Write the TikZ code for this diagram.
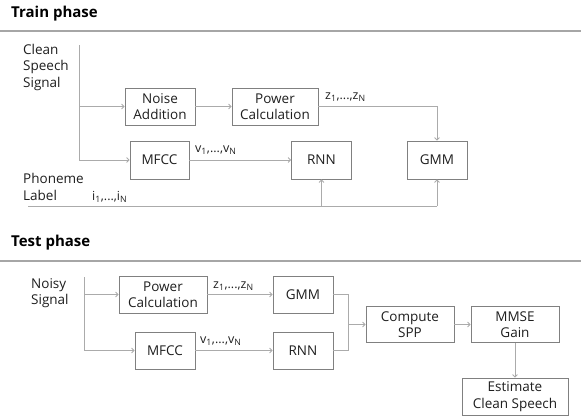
\documentclass[tikz,border=0pt]{standalone}
\usepackage{fontspec}
\setmainfont{Open Sans}
\usetikzlibrary{arrows.meta}
\definecolor{rulegray}{HTML}{A6A6A6}
\definecolor{boxgray}{HTML}{808080}
\definecolor{wiregray}{HTML}{ABABAB}
\definecolor{txt}{HTML}{1E1E1E}
\begin{document}
\begin{tikzpicture}[
  x=1pt, y=-1pt, line cap=butt, line join=miter,
  box/.style={draw=boxgray, line width=0.8pt, align=center, inner sep=0pt,
              font=\fontsize{13.5}{16.5}\selectfont, text=txt},
  conn/.style={draw=wiregray, line width=0.8pt, -{Straight Barb[length=2.5pt, width=5pt]}},
  wire/.style={draw=wiregray, line width=0.8pt},
  hrule/.style={draw=rulegray, line width=1.5pt},
  lbl/.style={font=\fontsize{13.5}{16.5}\selectfont, text=txt, align=left, anchor=west, inner sep=0pt},
  idx/.style={font=\fontsize{12.5}{14}\selectfont, text=txt, anchor=west, inner sep=0pt},
  phase/.style={font=\fontsize{15}{18}\selectfont\bfseries, text=black, anchor=west, inner sep=0pt},
]
\path[use as bounding box] (0,0) rectangle (581,418);

% Train phase
\node[phase] (train) at (11,14) {Train phase};
\draw[hrule] (0,31) -- (581,31);

\node[lbl] (clean) at (23,67) {Clean\\Speech\\Signal};
\node[lbl] (phon) at (23,187) {Phoneme\\Label};

\node[box, minimum width=70, minimum height=37] (noise) at (160,106.5) {Noise\\Addition};
\node[box, minimum width=86, minimum height=37] (power) at (275,106.5) {Power\\Calculation};
\node[box, minimum width=59, minimum height=38] (mfcc) at (159.5,160) {MFCC};
\node[box, minimum width=60, minimum height=38] (rnn) at (321.5,160) {RNN};
\node[box, minimum width=60, minimum height=38] (gmm) at (437,160) {GMM};

\coordinate (cs) at (79,45);
\coordinate (ph) at (28,206);
\draw[conn] (cs) |- (mfcc);
\draw[conn] (cs |- noise) -- (noise);
\draw[conn] (noise) -- (power);
\draw[conn] (power) -| (gmm);
\draw[conn] (mfcc) -- (rnn);
\draw[wire] (ph) -- (ph -| gmm);
\draw[conn] (ph -| rnn) -- (rnn);
\draw[conn] (ph -| gmm) -- (gmm);

\node[idx] (zlab) at (325,97) {z\textsubscript{1},...,z\textsubscript{N}};
\node[idx] (vlab) at (195,150) {v\textsubscript{1},...,v\textsubscript{N}};
\node[idx] (ilab) at (92,197) {i\textsubscript{1},...,i\textsubscript{N}};

% Test phase
\node[phase] (test) at (11,243) {Test phase};
\draw[hrule] (0,261) -- (581,261);

\node[lbl] (noisy) at (31,293) {Noisy\\Signal};

\node[box, minimum width=88, minimum height=37] (tpower) at (163,294.5) {Power\\Calculation};
\node[box, minimum width=60, minimum height=37] (tgmm) at (303,294.5) {GMM};
\node[box, minimum width=60, minimum height=37] (tmfcc) at (165,350.5) {MFCC};
\node[box, minimum width=60, minimum height=37] (trnn) at (303,350.5) {RNN};
\node[box, minimum width=88, minimum height=36] (spp) at (410,324.5) {Compute\\SPP};
\node[box, minimum width=88, minimum height=36] (mmse) at (515,324.5) {MMSE\\Gain};
\node[box, minimum width=106, minimum height=37] (est) at (515,396.5) {Estimate\\Clean Speech};

\coordinate (ns) at (84,277);
\coordinate (mg) at (348,324.5);
\draw[conn] (ns) |- (tmfcc);
\draw[conn] (ns |- tpower) -- (tpower);
\draw[conn] (tpower) -- (tgmm);
\draw[conn] (tmfcc) -- (trnn);
\draw[wire] (tgmm) -| (mg);
\draw[wire] (trnn) -| (mg);
\draw[conn] (mg) -- (spp);
\draw[conn] (spp) -- (mmse);
\draw[conn] (mmse) -- (est);

\node[idx] (tzlab) at (213,286) {z\textsubscript{1},...,z\textsubscript{N}};
\node[idx] (tvlab) at (200,341) {v\textsubscript{1},...,v\textsubscript{N}};

\end{tikzpicture}
\end{document}
